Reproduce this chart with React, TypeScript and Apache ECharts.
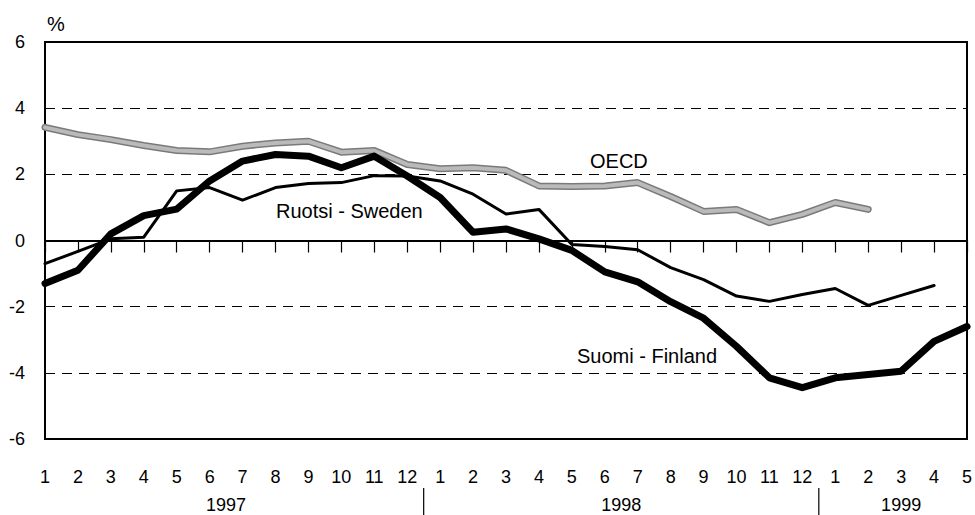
import React, { useEffect, useRef } from "react";
import * as echarts from "echarts";

// Month categories (year-month keys; label shows only the month)
const months: string[] = [
  "1997-1", "1997-2", "1997-3", "1997-4", "1997-5", "1997-6", "1997-7", "1997-8", "1997-9", "1997-10", "1997-11", "1997-12",
  "1998-1", "1998-2", "1998-3", "1998-4", "1998-5", "1998-6", "1998-7", "1998-8", "1998-9", "1998-10", "1998-11", "1998-12",
  "1999-1", "1999-2", "1999-3", "1999-4", "1999-5",
];

const finland: (number | null)[] = [
  -1.3, -0.9, 0.2, 0.75, 0.95, 1.8, 2.4, 2.6, 2.55, 2.2, 2.55, 1.95,
  1.3, 0.25, 0.35, 0.05, -0.3, -0.95, -1.25, -1.85, -2.35, -3.2, -4.15, -4.45,
  -4.15, -4.05, -3.95, -3.05, -2.6,
];

const sweden: (number | null)[] = [
  -0.7, -0.33, 0.05, 0.1, 1.5, 1.6, 1.22, 1.6, 1.72, 1.75, 1.96, 1.95,
  1.8, 1.4, 0.8, 0.94, -0.12, -0.18, -0.28, -0.82, -1.18, -1.68, -1.84, -1.63,
  -1.45, -1.96, -1.66, -1.36, null,
];

const oecd: (number | null)[] = [
  3.42, 3.2, 3.05, 2.87, 2.72, 2.68, 2.85, 2.95, 3.0, 2.67, 2.72, 2.3,
  2.17, 2.2, 2.12, 1.65, 1.63, 1.65, 1.75, 1.33, 0.88, 0.94, 0.54, 0.79,
  1.15, 0.94, null, null, null,
];

const years = [
  { label: "1997", from: 0, to: 11 },
  { label: "1998", from: 12, to: 23 },
  { label: "1999", from: 24, to: 28 },
];

const FONT = "'Liberation Sans', Arial, sans-serif";

export default function App() {
  const ref = useRef<HTMLDivElement>(null);

  useEffect(() => {
    if (!ref.current) return;
    const chart = echarts.init(ref.current, null, { renderer: "svg" });
    const option: any = {
      animation: false,
      backgroundColor: "#ffffff",
      grid: {
        left: 45,
        right: 6,
        top: 42,
        bottom: 76,
        show: true,
        borderColor: "#000",
        borderWidth: 2,
        backgroundColor: "transparent",
      },
      xAxis: {
        type: "category",
        data: months,
        boundaryGap: false,
        axisLine: { show: true, lineStyle: { color: "#000", width: 2 } },
        axisTick: { show: true, alignWithLabel: true, length: 12, lineStyle: { color: "#000", width: 1.2 } },
        axisLabel: {
          interval: 0,
          margin: 29,
          color: "#000",
          fontFamily: FONT,
          fontSize: 18,
          formatter: (v: string) => v.split("-")[1],
        },
        splitLine: { show: false },
      },
      yAxis: {
        type: "value",
        min: -6,
        max: 6,
        interval: 2,
        axisLine: { show: true, lineStyle: { color: "#000", width: 2 } },
        axisTick: { show: false },
        axisLabel: {
          margin: 20,
          color: "#000",
          fontFamily: FONT,
          fontSize: 18,
          padding: [6, 0, 0, 0],
        },
        splitLine: {
          show: true,
          lineStyle: { color: "#000", width: 1.2, type: [10, 7] },
        },
      },
      series: [
        {
          name: "OECD-edge",
          type: "line",
          data: oecd,
          symbol: "none",
          z: 2,
          lineStyle: { color: "#7a7a7a", width: 7, join: "round", cap: "round" },
        },
        {
          name: "OECD",
          type: "line",
          data: oecd,
          symbol: "none",
          z: 3,
          lineStyle: { color: "#bababa", width: 4, join: "round", cap: "round" },
        },
        {
          name: "Ruotsi - Sweden",
          type: "line",
          data: sweden,
          symbol: "none",
          z: 4,
          lineStyle: { color: "#000", width: 3, join: "round", cap: "round" },
          markLine: {
            silent: true,
            symbol: "none",
            label: { show: false },
            lineStyle: { color: "#000", width: 2, type: "solid" },
            data: [{ yAxis: 0 }],
          },
        },
        {
          name: "Suomi - Finland",
          type: "line",
          data: finland,
          symbol: "none",
          z: 5,
          lineStyle: { color: "#000", width: 7, join: "round", cap: "round" },
        },
      ],
    };
    chart.setOption(option);

    const px = (i: number) => chart.convertToPixel({ xAxisIndex: 0 }, i) as number;
    const graphics: any[] = [];
    years.forEach((y, k) => {
      const cx = (px(y.from) + px(y.to)) / 2;
      graphics.push({
        type: "text",
        x: cx,
        y: 505,
        style: { text: y.label, fill: "#000", font: `18px ${FONT}`, textAlign: "center", textVerticalAlign: "middle" },
      });
      if (k > 0) {
        const sx = (px(years[k - 1].to) + px(y.from)) / 2;
        graphics.push({
          type: "line",
          shape: { x1: sx, y1: 488, x2: sx, y2: 515 },
          style: { stroke: "#000", lineWidth: 1.2 },
        });
      }
    });
    graphics.push(
      { type: "text", left: 47, top: 14, style: { text: "%", fill: "#000", font: `20px ${FONT}` } },
      { type: "text", left: 276, top: 201, style: { text: "Ruotsi - Sweden", fill: "#000", font: `20px ${FONT}` } },
      { type: "text", left: 590, top: 151, style: { text: "OECD", fill: "#000", font: `20px ${FONT}` } },
      { type: "text", left: 577, top: 346, style: { text: "Suomi - Finland", fill: "#000", font: `20px ${FONT}` } },
    );
    chart.setOption({ graphic: graphics });

    return () => chart.dispose();
  }, []);

  return (
    <div
      ref={ref}
      style={{ position: "fixed", left: 0, top: 0, width: 975, height: 515, background: "#fff" }}
    />
  );
}
